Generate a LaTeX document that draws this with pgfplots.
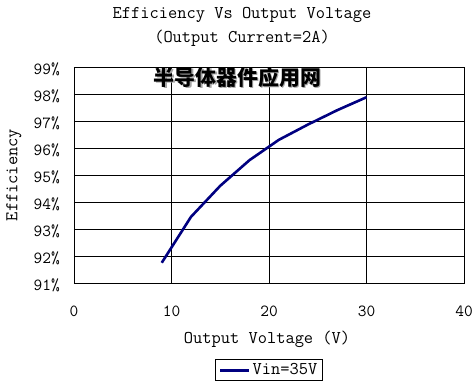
\documentclass[border=0pt]{standalone}
\usepackage{fontspec}
\newfontfamily\cjk{Noto Sans CJK SC}
\usepackage{pgfplots}
\pgfplotsset{compat=1.18}
\definecolor{navy}{RGB}{0,0,128}
\begin{document}
\begin{tikzpicture}[font=\ttfamily]
\path[use as bounding box] (-74bp,-103bp) rectangle (400bp,283bp);
\begin{axis}[
  at={(0,0)}, anchor=south west,
  scale only axis, width=390bp, height=216bp,
  xmin=0, xmax=40, ymin=91, ymax=99,
  xtick={0,10,20,30,40}, ytick={91,92,...,99},
  xticklabels={0,10,20,30,40},
  yticklabels={91\%,92\%,93\%,94\%,95\%,96\%,97\%,98\%,99\%},
  major tick length=0pt,
  grid=major,
  grid style={black, line width=0.9bp},
  axis line style={black, line width=0.9bp},
  tick label style={font=\ttfamily\fontsize{17}{20}\selectfont, inner sep=0pt},
  xticklabel style={anchor=center, yshift=-28bp},
  yticklabel style={anchor=east, xshift=-14bp, yshift=-2bp},
  xlabel={Output Voltage (V)},
  ylabel={Efficiency},
  label style={font=\ttfamily\fontsize{18}{21}\selectfont, inner sep=0pt},
  xlabel style={at={(axis description cs:0.495,0)}, anchor=center, yshift=-56bp},
  ylabel style={at={(axis description cs:-0.154,0.5)}, anchor=center},
  legend style={at={(axis description cs:0.5,-0.403)}, anchor=center,
    draw=black, line width=0.8bp, font=\ttfamily\fontsize{18}{21}\selectfont,
    inner xsep=3bp, inner ysep=2bp},
  legend image code/.code={\draw[#1, line width=3bp] (0bp,0bp) -- (29bp,0bp);},
]
\addplot[navy, line width=2.6bp] coordinates {
 (9,91.75) (12,93.45) (15,94.6) (18,95.55) (21,96.3) (24,96.87) (27,97.4) (30,97.88)
};
\addlegendentry{Vin=35V}
\node[text=black!35, font=\cjk\bfseries\fontsize{21}{24}\selectfont] at (axis description cs:0.419,0.953) [xshift=1.5bp, yshift=-1.5bp] {半导体器件应用网};
\node[text=black, font=\cjk\bfseries\fontsize{21}{24}\selectfont] at (axis description cs:0.419,0.953) {半导体器件应用网};
\end{axis}
\node[font=\ttfamily\fontsize{18}{21}\selectfont] at (168bp,268bp) {Efficiency Vs Output Voltage};
\node[font=\ttfamily\fontsize{18}{21}\selectfont] at (168bp,245bp) {(Output Current=2A)};
\end{tikzpicture}
\end{document}
